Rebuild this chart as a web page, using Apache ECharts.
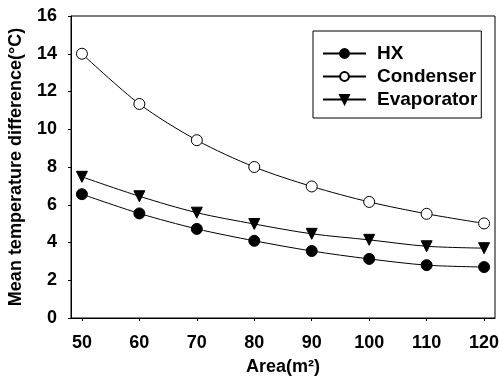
<!DOCTYPE html>
<html><head><meta charset="utf-8">
<script src="https://cdn.jsdelivr.net/npm/echarts@6/dist/echarts.min.js"></script>
<style>html,body{margin:0;padding:0;background:#fff}#c{width:500px;height:378px}</style>
</head><body><div id="c"></div>
<script>
const areas = [50, 60, 70, 80, 90, 100, 110, 120];
const hx = [6.56, 5.54, 4.72, 4.09, 3.55, 3.13, 2.80, 2.70];
const condenser = [14.0, 11.34, 9.42, 8.0, 6.97, 6.15, 5.52, 5.01];
const evaporator = [7.48, 6.45, 5.58, 4.98, 4.46, 4.14, 3.80, 3.70];
const xTicks = [50, 60, 70, 80, 90, 100, 110, 120];
const yTicks = [0, 2, 4, 6, 8, 10, 12, 14, 16];

const font = 'Liberation Sans, Arial, sans-serif';
const pair = (arr) => areas.map((a, i) => [a, arr[i]]);
const chart = echarts.init(document.getElementById('c'), null, {renderer: 'canvas'});
chart.setOption({
  animation: false,
  backgroundColor: '#fff',
  grid: {left: 71, right: 5, top: 16, bottom: 60, outerBoundsMode: 'none', containLabel: false,
         show: true, borderColor: '#000', borderWidth: 1},
  legend: {
    orient: 'vertical', left: 313, top: 31,
    padding: [13, 4, 9, 9], itemGap: 4,
    borderColor: '#000', borderWidth: 1,
    itemWidth: 43, itemHeight: 11,
    textStyle: {fontFamily: font, fontWeight: 'bold', fontSize: 19, color: '#000', padding: [0, 0, 0, 6]},
    data: ['HX', 'Condenser', 'Evaporator']
  },
  xAxis: {
    type: 'value', min: 48.1, max: 121.9,
    name: 'Area(m²)', nameLocation: 'middle', nameGap: 40,
    nameTextStyle: {fontFamily: font, fontWeight: 'bold', fontSize: 18, color: '#000'},
    axisLine: {lineStyle: {color: '#000'}},
    axisTick: {show: true, inside: false, length: 3, customValues: xTicks, lineStyle: {color: '#000'}},
    axisLabel: {customValues: xTicks, margin: 16, fontFamily: font, fontWeight: 'bold', fontSize: 18, color: '#000'},
    splitLine: {show: false}
  },
  yAxis: {
    type: 'value', min: 0, max: 16, interval: 2,
    name: 'Mean temperature difference(°C)', nameLocation: 'middle', nameGap: 46,
    nameTextStyle: {fontFamily: font, fontWeight: 'bold', fontSize: 18, color: '#000'},
    axisLine: {show: true, lineStyle: {color: '#000'}},
    axisTick: {show: true, inside: false, length: 3, lineStyle: {color: '#000'}},
    axisLabel: {margin: 14, fontFamily: font, fontWeight: 'bold', fontSize: 18, color: '#000'},
    splitLine: {show: false}
  },
  series: [
    {name: 'HX', type: 'line', smooth: 0.3, data: pair(hx), symbol: 'circle', symbolSize: 11,
     lineStyle: {color: '#000', width: 1}, itemStyle: {color: '#000', borderColor: '#000', borderWidth: 1}},
    {name: 'Condenser', type: 'line', smooth: 0.3, data: pair(condenser), symbol: 'circle', symbolSize: 11,
     lineStyle: {color: '#000', width: 1}, itemStyle: {color: '#fff', borderColor: '#000', borderWidth: 1}},
    {name: 'Evaporator', type: 'line', smooth: 0.3, data: pair(evaporator), symbol: 'triangle', symbolRotate: 180, symbolSize: 11,
     lineStyle: {color: '#000', width: 1}, itemStyle: {color: '#000', borderColor: '#000', borderWidth: 1}}
  ]
});
</script></body></html>
